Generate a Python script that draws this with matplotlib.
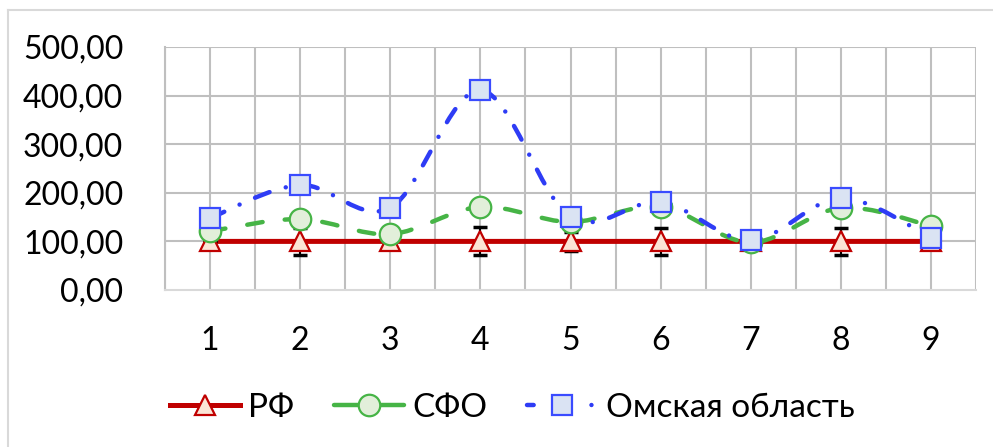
import numpy as np
import matplotlib
matplotlib.use("Agg")
import matplotlib.pyplot as plt
from matplotlib.path import Path
from matplotlib.patches import PathPatch
from matplotlib.lines import Line2D

plt.rcParams["font.family"] = ["Lato", "DejaVu Sans"]

# данные
kategorii = [1, 2, 3, 4, 5, 6, 7, 8, 9]
rf = [100, 100, 100, 100, 100, 100, 100, 100, 100]
rf_err = [0, 27, 0, 29, 19, 28, 0, 28, 0]
sfo = [121, 146, 115, 171, 140, 171, 98, 169, 132]
omsk = [148, 216, 169, 411, 150, 181, 102, 189, 108]
y_ticks = [0, 100, 200, 300, 400, 500]


def gladkaya(ax, x, y, **kw):
    # сглаженная линия из кривых Безье через точки
    x = np.asarray(x, float)
    y = np.asarray(y, float)
    pts = np.column_stack([x, y])
    n = len(pts)
    verts = [pts[0]]
    codes = [Path.MOVETO]
    for i in range(n - 1):
        p0 = pts[max(i - 1, 0)]
        p1 = pts[i]
        p2 = pts[i + 1]
        p3 = pts[min(i + 2, n - 1)]
        c1 = p1 + (p2 - p0) / 6.0
        c2 = p2 - (p3 - p1) / 6.0
        verts += [c1, c2, p2]
        codes += [Path.CURVE4] * 3
    patch = PathPatch(Path(verts, codes), fill=False, **kw)
    ax.add_patch(patch)
    return patch


fig = plt.figure(figsize=(9.93, 4.47), dpi=100)
ax = fig.add_axes([165 / 993, 1 - 290 / 447, (976 - 165) / 993, (290 - 47) / 447])

# рамка диаграммы
fig.add_artist(Line2D([8 / 993, 8 / 993], [0, 1 - 10 / 447], transform=fig.transFigure,
                      color="#D9D9D9", lw=1.5))
fig.add_artist(Line2D([8 / 993, 1], [1 - 10 / 447, 1 - 10 / 447], transform=fig.transFigure,
                      color="#D9D9D9", lw=1.5))

red = "#C00000"
green = "#46B446"
blue = "#2E3CF5"
dash_sfo = (0, (3.5, 5.0))
dash_omsk = (0, (3.5, 3.8, 0.01, 3.8))

gladkaya(ax, kategorii, rf, edgecolor=red, lw=3.6, zorder=2, capstyle="butt")
gladkaya(ax, kategorii, sfo, edgecolor=green, lw=3.2, zorder=3,
         linestyle=dash_sfo, capstyle="round")
gladkaya(ax, kategorii, omsk, edgecolor=blue, lw=3.2, zorder=4,
         linestyle=dash_omsk, capstyle="round")

ax.errorbar(kategorii, rf, yerr=rf_err, fmt="none", ecolor="black", elinewidth=1.5,
            capsize=5, capthick=2.5, zorder=4.5)

ax.plot(kategorii, rf, ls="none", marker="^", ms=15, mfc="#FBE5D6", mec=red, mew=1.6, zorder=5)
ax.plot(kategorii, sfo, ls="none", marker="o", ms=15.5, mfc="#E2EFDA", mec=green, mew=1.6, zorder=6)
ax.plot(kategorii, omsk, ls="none", marker="s", ms=15, mfc="#DAE3F3", mec="#3A4BFF", mew=1.6, zorder=7)

ax.set_xlim(0.5, 9.5)
ax.set_ylim(0, 500)
ax.set_yticks(y_ticks)
ax.set_yticklabels([f"{v:.2f}".replace(".", ",") for v in y_ticks])
ax.set_xticks(kategorii)
ax.set_xticklabels([str(k) for k in kategorii])
ax.tick_params(axis="both", length=0, labelsize=23)
ax.tick_params(axis="x", pad=26)
ax.tick_params(axis="y", pad=30)

# сетка: горизонтальные линии и вертикальные через каждые полкатегории
for v in y_ticks[1:]:
    ax.axhline(v, color="#BFBFBF", lw=1.5, zorder=0)
for v in np.arange(0.5, 9.51, 0.5):
    ax.axvline(v, color="#BFBFBF", lw=1.5, zorder=0)
for s in ["top", "right"]:
    ax.spines[s].set_visible(False)
ax.spines["left"].set_color("#BFBFBF")
ax.spines["left"].set_linewidth(1.5)
ax.spines["bottom"].set_color("#D9D9D9")
ax.spines["bottom"].set_linewidth(1.5)

# в легенде: отрезок линии, маркер, отрезок (у Омской области — точка справа)
handles = [
    Line2D([], [], color=red, lw=3.6, marker="^", ms=15, mfc="#FBE5D6", mec=red, mew=1.6),
    Line2D([], [], color=green, lw=3.2, marker="o", ms=15.5,
           mfc="#E2EFDA", mec=green, mew=1.6, solid_capstyle="round"),
    Line2D([], [], color=blue, lw=3.2, ls=(0, (1.5, 13.0, 0.01, 5.0)), marker="s", ms=15,
           mfc="#DAE3F3", mec="#3A4BFF", mew=1.6, dash_capstyle="round"),
]
fig.legend(handles, ["РФ", "СФО", "Омская область"], loc="center",
           bbox_to_anchor=(512 / 993, 1 - 408 / 447), ncol=3, frameon=False, fontsize=24,
           handlelength=2.1, handletextpad=0.25, columnspacing=1.2)

fig.savefig("out.png", dpi=100)
